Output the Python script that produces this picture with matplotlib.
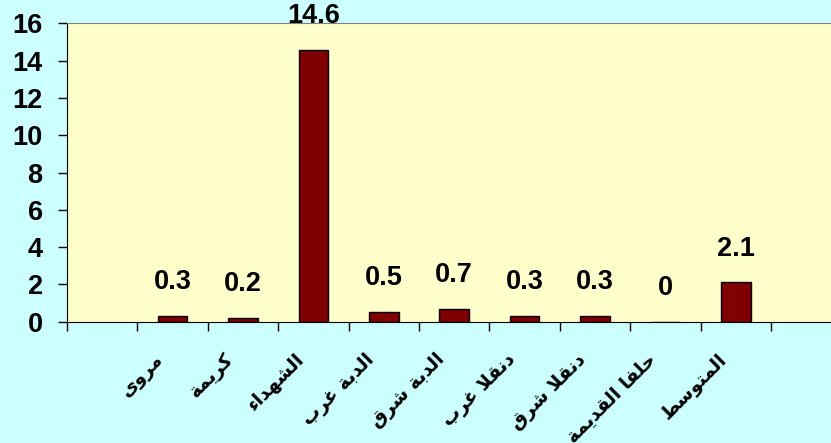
import matplotlib
matplotlib.use("Agg")
import matplotlib.pyplot as plt

# Sites (logical Arabic order) and their values
sites = ["مروى", "كريمة", "الشهداء", "الدبة غرب", "الدبة شرق",
         "دنقلا غرب", "دنقلا شرق", "حلفا القديمة", "المتوسط"]
values = [0.3, 0.2, 14.6, 0.5, 0.7, 0.3, 0.3, 0, 2.1]
y_ticks = [0, 2, 4, 6, 8, 10, 12, 14, 16]

# matplotlib has no Arabic shaping, so map letters to presentation forms
# (isolated, final, initial, medial) and reverse into visual order
FORMS = {
    'ء': (0xFE80, None, None, None),
    'ا': (0xFE8D, 0xFE8E, None, None),
    'ب': (0xFE8F, 0xFE90, 0xFE91, 0xFE92),
    'ة': (0xFE93, 0xFE94, None, None),
    'ت': (0xFE95, 0xFE96, 0xFE97, 0xFE98),
    'ح': (0xFEA1, 0xFEA2, 0xFEA3, 0xFEA4),
    'د': (0xFEA9, 0xFEAA, None, None),
    'ر': (0xFEAD, 0xFEAE, None, None),
    'س': (0xFEB1, 0xFEB2, 0xFEB3, 0xFEB4),
    'ش': (0xFEB5, 0xFEB6, 0xFEB7, 0xFEB8),
    'ط': (0xFEC1, 0xFEC2, 0xFEC3, 0xFEC4),
    'غ': (0xFECD, 0xFECE, 0xFECF, 0xFED0),
    'ف': (0xFED1, 0xFED2, 0xFED3, 0xFED4),
    'ق': (0xFED5, 0xFED6, 0xFED7, 0xFED8),
    'ك': (0xFED9, 0xFEDA, 0xFEDB, 0xFEDC),
    'ل': (0xFEDD, 0xFEDE, 0xFEDF, 0xFEE0),
    'م': (0xFEE1, 0xFEE2, 0xFEE3, 0xFEE4),
    'ن': (0xFEE5, 0xFEE6, 0xFEE7, 0xFEE8),
    'ه': (0xFEE9, 0xFEEA, 0xFEEB, 0xFEEC),
    'و': (0xFEED, 0xFEEE, None, None),
    'ى': (0xFEEF, 0xFEF0, None, None),
    'ي': (0xFEF1, 0xFEF2, 0xFEF3, 0xFEF4),
    '\uFEFB': (0xFEFB, 0xFEFC, None, None),  # lam-alef
}


def shape(text):
    s = text.replace('لا', '\uFEFB')
    out = []
    for i, ch in enumerate(s):
        f = FORMS.get(ch)
        if f is None:
            out.append(ch)
            continue
        prev = s[i - 1] if i > 0 else ''
        nxt = s[i + 1] if i + 1 < len(s) else ''
        join_prev = prev in FORMS and FORMS[prev][2] is not None
        join_next = f[2] is not None and nxt in FORMS and FORMS[nxt][1] is not None
        if join_prev and join_next:
            code = f[3]
        elif join_prev:
            code = f[1]
        elif join_next:
            code = f[2]
        else:
            code = f[0]
        out.append(chr(code))
    return ''.join(reversed(out))


plt.rcParams['font.family'] = ['Liberation Sans', 'DejaVu Sans']
plt.rcParams['font.weight'] = 'bold'

fig = plt.figure(figsize=(8.31, 4.43), dpi=100, facecolor='#CCFFFF')
# 11 category slots; the last one runs past the right edge
ax = fig.add_axes([0.0806, 0.274, 0.932, 0.673], facecolor='#FFFFCC')

xs = list(range(1, len(sites) + 1))
ax.bar(xs, values, width=0.42, color='#800000', edgecolor='black', linewidth=1.0)

for x, v in zip(xs, values):
    ax.annotate(f"{v:g}", (x, v), xytext=(0, 15), textcoords='offset points',
                ha='center', va='bottom', fontsize=19.5, fontweight='bold')

for x, name in zip(xs, sites):
    ax.annotate(shape(name), xy=(x, 0), xycoords=('data', 'axes fraction'),
                xytext=(-9, -25), textcoords='offset points',
                ha='right', va='center', rotation=45, rotation_mode='anchor',
                fontsize=13.5, fontweight='bold', family='DejaVu Sans')

ax.set_xlim(-0.5, 10.5)
ax.set_ylim(0, 16)
ax.set_yticks(y_ticks)
ax.set_yticklabels([str(t) for t in y_ticks], fontsize=19.5, fontweight='bold')
ax.set_xticks(xs)
ax.set_xticklabels([])
ax.set_xticks([k - 0.5 for k in range(12)], minor=True)
ax.tick_params(axis='x', which='major', length=0)
ax.tick_params(axis='x', which='minor', length=6.5, width=1, direction='out')
ax.tick_params(axis='y', length=6.5, width=1, direction='out', pad=11)

ax.spines['left'].set_color('black')
ax.spines['bottom'].set_color('black')
ax.spines['top'].set_color('#808080')
ax.spines['right'].set_color('#808080')

fig.savefig("out.png", dpi=100, facecolor=fig.get_facecolor())
